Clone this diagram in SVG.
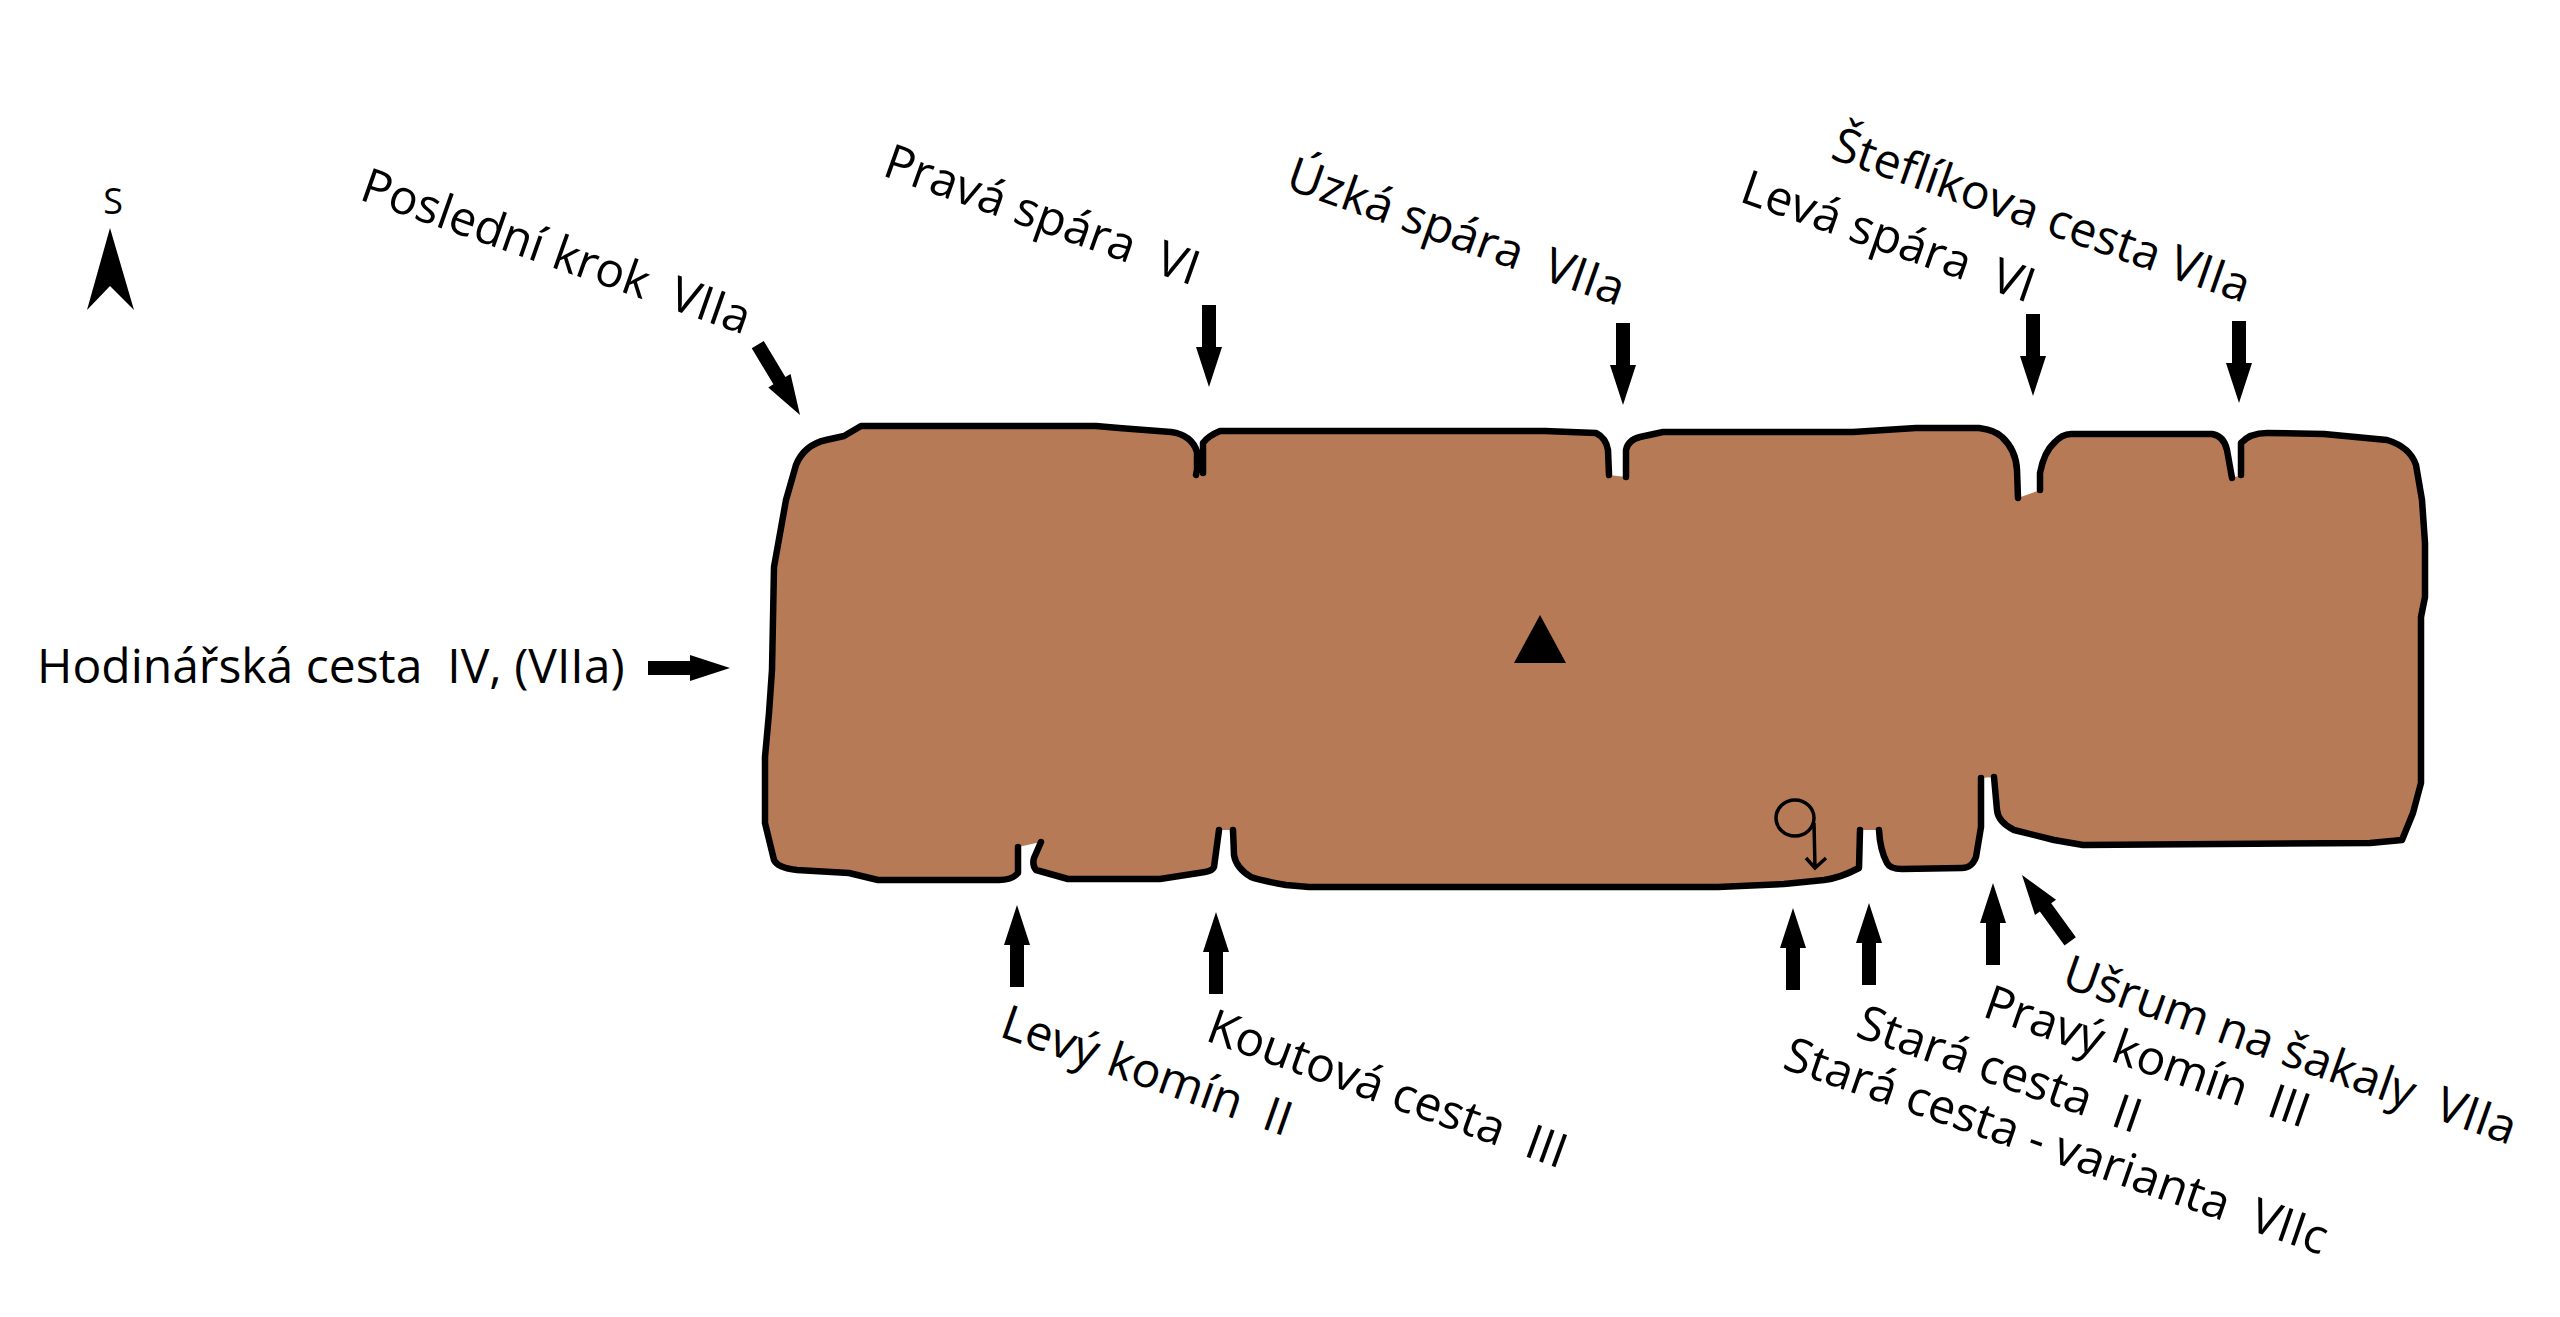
<svg xmlns="http://www.w3.org/2000/svg" width="2560" height="1317" viewBox="0 0 2560 1317">
<style>
text{font-family:"Open Sans","Noto Sans","Liberation Sans",sans-serif;font-size:48px;fill:#000;white-space:pre}
.rock{fill:#b67b56;stroke:none}
.edge{fill:none;stroke:#000;stroke-width:6.5;stroke-linejoin:round;stroke-linecap:round}
</style>
<defs>
<polygon id="arrow" points="0,0 -40,13 -40,7 -82,7 -82,-7 -40,-7 -40,-13"/>
</defs>
<rect width="2560" height="1317" fill="#fff"/>
<g id="massif">
<path class="rock" d="M1018 847 L1018 873 Q1012 880 999 880 L878 880 L849 873 L797 870 Q778 868 774 860 L765 823 L765 757 L769 713 L772 670 L774 567 L786 500 L796 465 Q804 445 826 440 L844 436 L861 426 L1096 426 L1119 428 L1171 432 Q1192 435 1197 452 L1197 470 L1196 475 L1203 473 L1203 443 Q1208 436 1220 431 L1545 431 L1596 433 Q1606 438 1608 450 L1609 475 L1626 477 L1626 450 Q1628 440 1640 437 L1663 432 L1853 432 L1916 428 L1979 428 Q1995 430 2002 437 Q2016 450 2017 470 L2018 498 L2040 490 L2040 473 Q2044 452 2054 443 Q2062 434 2071 434 L2212 434 Q2224 436 2227 450 L2232 478 L2241 475 L2241 443 Q2250 433 2267 433 L2324 434 L2387 440 Q2410 447 2416 465 L2422 500 L2425 543 L2425 597 L2421 617 L2421 783 L2413 813 L2402 840 L2370 843 L2083 845 L2054 840 L2014 830 Q1998 822 1997 810 L1994 777 L1981 778 L1981 827 L1976 857 Q1972 868 1962 868 L1902 869 Q1890 869 1887 863 Q1880 850 1879 830 L1860 830 L1859 868 Q1840 878 1824 880 L1784 884 L1718 887 L1309 887 L1286 885 Q1258 880 1251 877 Q1236 868 1234 855 L1233 830 L1219 830 L1214 867 Q1212 871 1205 872 L1160 879 L1068 879 L1036 870 Q1032 865 1034 858 L1041 842 Z"/>
<path class="edge" d="M1018 847 L1018 873 Q1012 880 999 880 L878 880 L849 873 L797 870 Q778 868 774 860 L765 823 L765 757 L769 713 L772 670 L774 567 L786 500 L796 465 Q804 445 826 440 L844 436 L861 426 L1096 426 L1119 428 L1171 432 Q1192 435 1197 452 L1197 470 L1196 475 M1203 473 L1203 443 Q1208 436 1220 431 L1545 431 L1596 433 Q1606 438 1608 450 L1609 475 M1626 477 L1626 450 Q1628 440 1640 437 L1663 432 L1853 432 L1916 428 L1979 428 Q1995 430 2002 437 Q2016 450 2017 470 L2018 498 M2040 490 L2040 473 Q2044 452 2054 443 Q2062 434 2071 434 L2212 434 Q2224 436 2227 450 L2232 478 M2241 475 L2241 443 Q2250 433 2267 433 L2324 434 L2387 440 Q2410 447 2416 465 L2422 500 L2425 543 L2425 597 L2421 617 L2421 783 L2413 813 L2402 840 L2370 843 L2083 845 L2054 840 L2014 830 Q1998 822 1997 810 L1994 777 M1981 778 L1981 827 L1976 857 Q1972 868 1962 868 L1902 869 Q1890 869 1887 863 Q1880 850 1879 830 M1860 830 L1859 868 Q1840 878 1824 880 L1784 884 L1718 887 L1309 887 L1286 885 Q1258 880 1251 877 Q1236 868 1234 855 L1233 830 M1219 830 L1214 867 Q1212 871 1205 872 L1160 879 L1068 879 L1036 870 Q1032 865 1034 858 L1041 842"/>
</g>
<g id="summit"><polygon points="1540,615 1514,663 1566,663"/></g>
<g id="abseil">
<ellipse cx="1795" cy="818" rx="19" ry="18" fill="none" stroke="#000" stroke-width="3.5"/>
<path d="M1814 823 L1815 868 M1806 858 L1815 868 L1826 858" fill="none" stroke="#000" stroke-width="3.5"/>
</g>
<g id="north">
<polygon points="110,228 87,310 110,286 134,310"/>
<text x="113" y="214" text-anchor="middle" style="font-size:36px">S</text>
</g>
<g id="connectors">
<use href="#arrow" transform="translate(800 415) rotate(59)"/>
<use href="#arrow" transform="translate(1209 387) rotate(90)"/>
<use href="#arrow" transform="translate(1623 405) rotate(90)"/>
<use href="#arrow" transform="translate(2033 396) rotate(90)"/>
<use href="#arrow" transform="translate(2239 403) rotate(90)"/>
<use href="#arrow" transform="translate(730 668)"/>
<use href="#arrow" transform="translate(1017 905) rotate(-90)"/>
<use href="#arrow" transform="translate(1216 912) rotate(-90)"/>
<use href="#arrow" transform="translate(1793 908) rotate(-90)"/>
<use href="#arrow" transform="translate(1869 903) rotate(-90)"/>
<use href="#arrow" transform="translate(1993 883) rotate(-90)"/>
<use href="#arrow" transform="translate(2022 875) rotate(-126)"/>
</g>
<g id="labels">
<text transform="translate(358 199) rotate(19.4)">Poslední krok  VIIa</text>
<text transform="translate(881 175) rotate(19.6)">Pravá spára  VI</text>
<text transform="translate(1284 188) rotate(19.5)">Úzká spára  VIIa</text>
<text transform="translate(1829 158) rotate(19.3)">Šteflíkova cesta VIIa</text>
<text transform="translate(1738 201) rotate(19.4)">Levá spára  VI</text>
<text x="37" y="683">Hodinářská cesta  IV, (VIIa)</text>
<text transform="translate(998 1036) rotate(19.3)">Levý komín  II</text>
<text transform="translate(1204 1040) rotate(19.9)">Koutová cesta  III</text>
<text transform="translate(2060 986) rotate(19.5)">Ušrum na šakaly  VIIa</text>
<text transform="translate(1981 1016) rotate(19.2)">Pravý komín  III</text>
<text transform="translate(1854 1036) rotate(19.2)">Stará cesta  II</text>
<text transform="translate(1781 1068) rotate(19.1)">Stará cesta - varianta  VIIc</text>
</g>
</svg>
